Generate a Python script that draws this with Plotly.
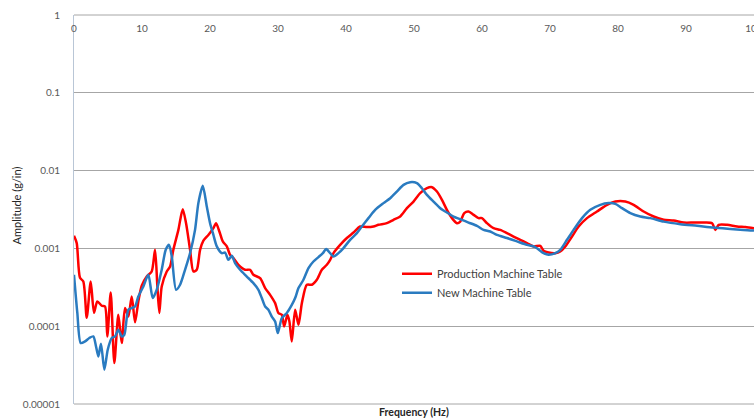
import plotly.graph_objects as go

# Frequency response of the two machine tables (amplitude in g/in vs Hz)
prod_freq = [0, 0.40, 0.88, 1.37, 1.87, 2.46, 2.94, 3.43, 4.08, 4.56, 4.90, 5.40, 5.93, 6.52,
             7.02, 7.50, 7.99, 8.49, 8.98, 9.46, 9.96, 10.70, 11.43, 11.92, 12.26, 12.55,
             12.90, 13.64, 14.13, 14.61, 15.35, 15.99, 16.48, 17.07, 17.55, 18.05, 18.54,
             19.03, 19.76, 20.50, 20.89, 21.38, 21.88, 22.47, 22.95, 23.44, 24.18, 25.16,
             25.90, 26.38, 27.37, 28.11, 28.84, 29.58, 30.06, 30.56, 30.90, 31.39, 31.68,
             32.03, 32.52, 33.01, 33.51, 34.24, 34.98, 35.71, 36.45, 37.18, 37.67, 38.16,
             39.14, 40.13, 41.10, 42.08, 43.07, 44.04, 44.78, 46.01, 46.98, 47.97, 48.96,
             49.93, 50.91, 51.90, 52.64, 53.37, 54.11, 54.84, 55.58, 56.31, 56.80, 57.39,
             58.02, 58.76, 59.49, 59.99, 60.73, 61.70, 62.68, 63.67, 64.64, 65.63, 66.61,
             67.59, 68.57, 69.06, 69.79, 70.78, 71.51, 72.25, 73.24, 74.21, 75.44, 76.91,
             78.39, 79.61, 81.08, 82.30, 83.77, 85.24, 86.71, 88.19, 89.66, 91.13, 92.60,
             93.84, 94.32, 94.81, 96.04, 97.51, 98.74, 100]
prod_amp = [0.00145, 0.00117, 0.000419, 0.000376, 0.000128, 0.000376, 0.000149, 0.000208,
            0.000183, 0.000179, 0.0000738, 0.000271, 0.0000336, 0.000140, 0.0000607,
            0.000171, 0.000133, 0.000241, 0.000112, 0.000208, 0.000331, 0.000435, 0.000505,
            0.000959, 0.000324, 0.000148, 0.000324, 0.000505, 0.000585, 0.000959, 0.00173,
            0.00319, 0.00211, 0.000959, 0.000505, 0.000531, 0.000959, 0.00126, 0.00149,
            0.00182, 0.00211, 0.00165, 0.00123, 0.00106, 0.000827, 0.000750, 0.000615,
            0.000531, 0.000531, 0.000458, 0.000415, 0.000309, 0.000253, 0.000198, 0.000148,
            0.000140, 0.0000993, 0.000140, 0.000115, 0.0000637, 0.000163, 0.000104, 0.000198,
            0.000341, 0.000341, 0.000395, 0.000531, 0.000615, 0.000713, 0.000869, 0.00111,
            0.00136, 0.00160, 0.00191, 0.00188, 0.00191, 0.00201, 0.00211, 0.00233, 0.00257,
            0.00329, 0.00400, 0.00513, 0.00594, 0.00612, 0.00538, 0.00421, 0.00313, 0.00245,
            0.00211, 0.00221, 0.00284, 0.00298, 0.00270, 0.00245, 0.00245, 0.00211, 0.00182,
            0.00173, 0.00157, 0.00142, 0.00129, 0.00117, 0.00106, 0.00108, 0.000931,
            0.000885, 0.000869, 0.000912, 0.00106, 0.00142, 0.00191, 0.00245, 0.00298,
            0.00363, 0.00400, 0.00400, 0.00363, 0.00298, 0.00257, 0.00233, 0.00228, 0.00215,
            0.00215, 0.00215, 0.00211, 0.00173, 0.00201, 0.00201, 0.00191, 0.00188, 0.00182]

new_freq = [0, 0.49, 0.99, 1.62, 2.25, 2.84, 3.24, 3.58, 3.97, 4.46, 4.96, 5.55, 6.03, 6.52,
            7.02, 7.40, 7.99, 8.49, 8.98, 9.46, 10.20, 10.93, 11.58, 12.17, 12.90, 13.49,
            13.98, 14.38, 15.01, 15.60, 16.33, 17.07, 17.80, 18.29, 18.94, 19.53, 20.01,
            20.50, 21.00, 21.73, 22.22, 22.70, 23.21, 23.69, 24.43, 25.41, 26.38, 27.12,
            27.62, 28.11, 28.59, 29.09, 29.58, 29.97, 30.56, 31.30, 32.03, 32.52, 33.01,
            33.74, 34.48, 35.21, 35.95, 36.60, 37.08, 37.67, 38.16, 38.89, 39.63, 40.61,
            41.60, 42.33, 43.30, 44.29, 45.51, 46.50, 47.48, 48.46, 49.44, 50.43, 51.16,
            51.90, 52.87, 53.86, 54.84, 55.81, 57.05, 58.02, 59.26, 60.23, 61.21, 62.20,
            63.67, 65.14, 66.61, 67.83, 69.06, 69.79, 70.78, 71.51, 72.50, 73.47, 74.71,
            75.93, 77.40, 78.62, 79.61, 80.59, 81.81, 83.28, 84.76, 86.71, 89.17, 91.63,
            94.07, 96.53, 98.48, 100]
new_amp = [0.000458, 0.000148, 0.0000607, 0.0000637, 0.0000705, 0.0000738, 0.0000549,
           0.0000409, 0.0000595, 0.0000276, 0.0000498, 0.0000705, 0.0000738, 0.0000900,
           0.0000738, 0.0000776, 0.000163, 0.000171, 0.000179, 0.000241, 0.000324, 0.000458,
           0.000230, 0.000294, 0.000531, 0.000959, 0.00111, 0.000787, 0.000294, 0.000341,
           0.000531, 0.000869, 0.00173, 0.00382, 0.00637, 0.00345, 0.00211, 0.00149, 0.00106,
           0.000869, 0.000885, 0.000713, 0.000803, 0.000647, 0.000531, 0.000435, 0.000358,
           0.000294, 0.000230, 0.000179, 0.000163, 0.000133, 0.000115, 0.0000816, 0.000127,
           0.000148, 0.000188, 0.000230, 0.000309, 0.000395, 0.000558, 0.000679, 0.000773,
           0.000869, 0.000979, 0.000869, 0.000787, 0.000869, 0.00101, 0.00129, 0.00157,
           0.00191, 0.00245, 0.00313, 0.00382, 0.00442, 0.00538, 0.00656, 0.00710, 0.00690,
           0.00594, 0.00488, 0.00400, 0.00329, 0.00289, 0.00257, 0.00233, 0.00215, 0.00195,
           0.00173, 0.00165, 0.00149, 0.00136, 0.00123, 0.00111, 0.00104, 0.000869,
           0.000827, 0.000869, 0.000959, 0.00129, 0.00173, 0.00245, 0.00313, 0.00363,
           0.00382, 0.00374, 0.00329, 0.00284, 0.00257, 0.00245, 0.00221, 0.00205, 0.00195,
           0.00185, 0.00178, 0.00173, 0.00170]

x_ticks = [0, 10, 20, 30, 40, 50, 60, 70, 80, 90, 100]
y_ticks = [1, 0.1, 0.01, 0.001, 0.0001, 0.00001]
y_tick_text = ["1", "0.1", "0.01", "0.001", "0.0001", "0.00001"]

FONT = "Lato"
TICK_COLOR = "#595959"
GRID_COLOR = "#a6a6a6"

fig = go.Figure()
fig.add_trace(go.Scatter(
    x=prod_freq, y=prod_amp, mode="lines", name="Production Machine Table",
    line=dict(color="#ff0000", width=2.5, shape="spline", smoothing=0.7),
))
fig.add_trace(go.Scatter(
    x=new_freq, y=new_amp, mode="lines", name="New Machine Table",
    line=dict(color="#2a7bc0", width=2.5, shape="spline", smoothing=0.7),
))

# Frame: grey top/bottom edges, light blue-grey left/right edges
fig.add_shape(type="line", xref="paper", yref="paper", x0=0, x1=1, y0=1, y1=1,
              line=dict(color=GRID_COLOR, width=1), layer="below")
fig.add_shape(type="line", xref="paper", yref="paper", x0=0, x1=1, y0=0, y1=0,
              line=dict(color=GRID_COLOR, width=1), layer="below")

fig.update_layout(
    width=754, height=419,
    margin=dict(l=74, r=0, t=15, b=15, autoexpand=False),
    paper_bgcolor="white", plot_bgcolor="white",
    font=dict(family=FONT, size=10, color=TICK_COLOR),
    showlegend=True,
    legend=dict(
        x=0.475, y=0.372, xanchor="left", yanchor="top",
        bgcolor="rgba(0,0,0,0)", font=dict(family=FONT, size=11, color="#404040"),
        itemwidth=30, tracegroupgap=0,
    ),
    # x axis crosses at the top of the plot, labels hang just below it
    xaxis=dict(
        range=[0, 100], side="bottom", anchor="free", position=1,
        tickvals=x_ticks, ticklabelstandoff=6, ticklabeloverflow="allow",
        automargin=False,
        showgrid=False, zeroline=False, showline=False,
        ticks="", tickfont=dict(family=FONT, size=10, color=TICK_COLOR),
    ),
    yaxis=dict(
        type="log", range=[-5, 0], tickvals=y_ticks, ticktext=y_tick_text,
        automargin=False,
        showgrid=True, gridcolor=GRID_COLOR, gridwidth=1, zeroline=False,
        showline=True, mirror=True, linecolor="#b9c6d6", linewidth=1,
        ticks="", ticklabelstandoff=11,
        tickfont=dict(family=FONT, size=10, color=TICK_COLOR),
    ),
    annotations=[
        dict(text="<b>Frequency (Hz)</b>", xref="paper", yref="paper",
             x=0.5, y=-0.021, xanchor="center", yanchor="middle", showarrow=False,
             font=dict(family=FONT, size=10.5, color="#262626")),
        dict(text="Amplitude (g/in)", xref="paper", yref="paper",
             x=-0.084, y=0.51, xanchor="center", yanchor="middle", showarrow=False,
             textangle=-90, font=dict(family=FONT, size=11, color="#262626")),
    ],
)

fig.write_html("out.html")
